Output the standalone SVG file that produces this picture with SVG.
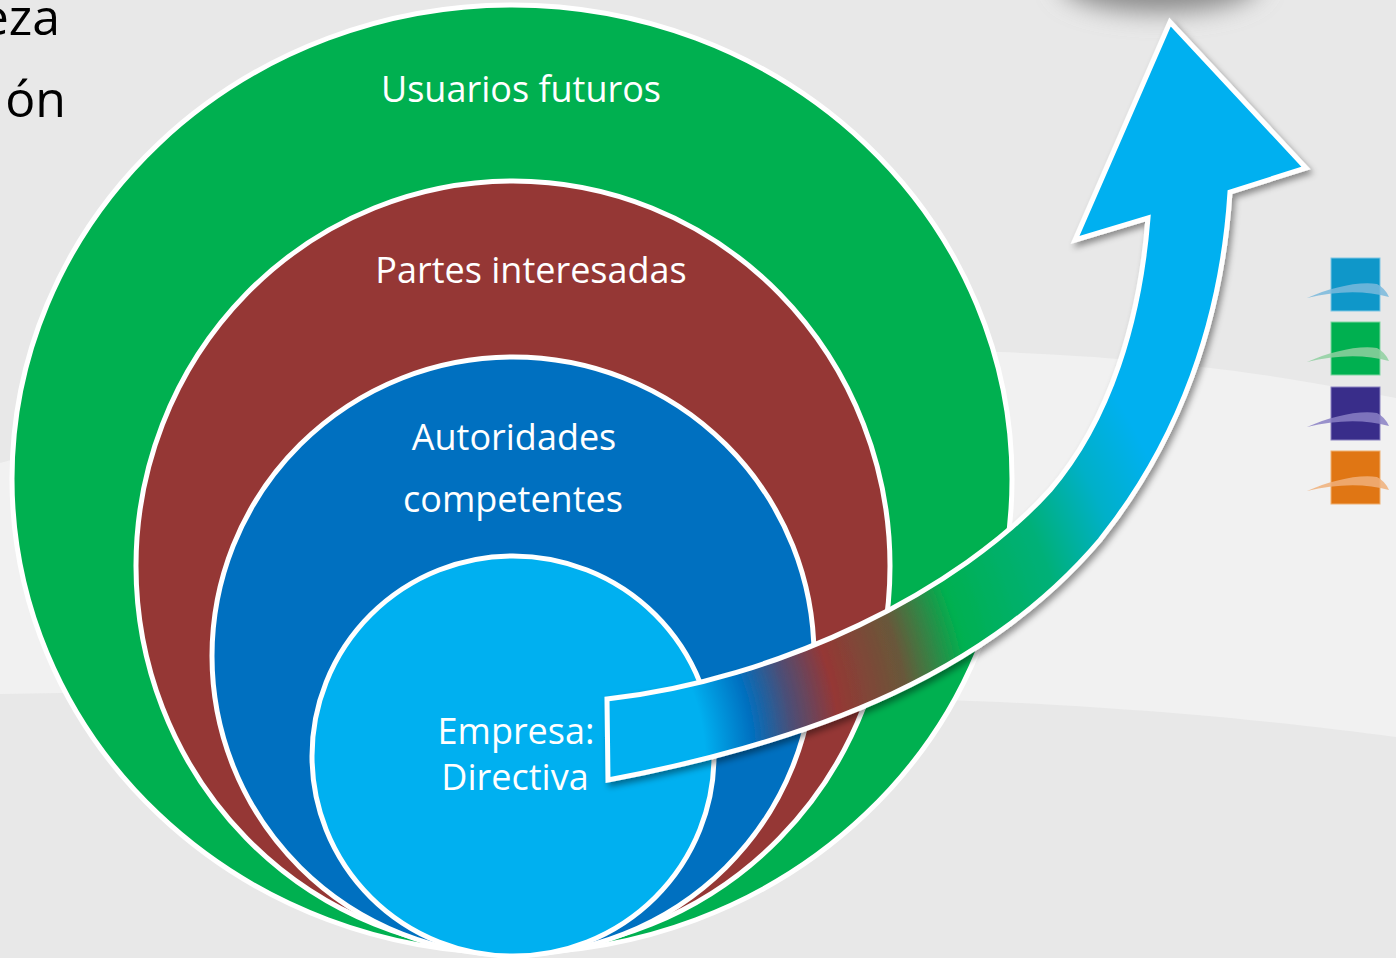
<svg xmlns="http://www.w3.org/2000/svg" width="1396" height="958" viewBox="0 0 1396 958">
<defs>
<style>
.lbl{font-family:"Open Sans","Noto Sans","Liberation Sans",sans-serif;font-size:36px;fill:#ffffff;text-anchor:middle}
.big{font-family:"Open Sans","Noto Sans","Liberation Sans",sans-serif;font-size:50px;fill:#000000;text-anchor:end}
.ring{stroke:#ffffff;stroke-width:5}
.sw{opacity:0.85}
</style>
<radialGradient id="arrowGrad" gradientUnits="userSpaceOnUse" cx="513" cy="760" r="800">
<stop offset="0" stop-color="#00b0f0"/>
<stop offset="0.24" stop-color="#00b0f0"/>
<stop offset="0.30" stop-color="#0070c0"/>
<stop offset="0.35" stop-color="#4a4f78"/>
<stop offset="0.41" stop-color="#953735"/>
<stop offset="0.50" stop-color="#68583a"/>
<stop offset="0.58" stop-color="#00b050"/>
<stop offset="0.71" stop-color="#00b078"/>
<stop offset="0.80" stop-color="#00b0c8"/>
<stop offset="0.88" stop-color="#00b0f0"/>
<stop offset="1" stop-color="#00b0f0"/>
</radialGradient>
<filter id="shadow" x="-10%" y="-10%" width="130%" height="130%">
<feDropShadow dx="3" dy="4" stdDeviation="3" flood-color="#000000" flood-opacity="0.4"/>
</filter>
<filter id="blur" x="-50%" y="-100%" width="200%" height="300%">
<feGaussianBlur stdDeviation="12"/>
</filter>
</defs>

<g id="background">
<rect x="0" y="0" width="1396" height="958" fill="#e8e8e8"/>
<path d="M0,463 C300,380 700,340 1000,352 C1200,360 1300,380 1396,398 L1396,737 C1300,725 1200,712 1000,702 C700,690 300,688 0,694 Z" fill="#f1f1f1"/>
<ellipse cx="1160" cy="-18" rx="100" ry="30" fill="#8a8a8a" filter="url(#blur)"/>
</g>

<g id="title-text">
<text class="big" x="60" y="35">eza</text>
<text class="big" x="66" y="117">ón</text>
</g>

<g id="node-usuarios">
<ellipse class="ring" cx="512" cy="479" rx="500" ry="474" fill="#00b050"/>
<text class="lbl" x="521" y="102">Usuarios futuros</text>
</g>
<g id="node-partes">
<ellipse class="ring" cx="513" cy="566" rx="377" ry="385" fill="#953735"/>
<text class="lbl" x="531" y="283">Partes interesadas</text>
</g>
<g id="node-autoridades">
<ellipse class="ring" cx="513" cy="656" rx="301" ry="299" fill="#0070c0"/>
<text class="lbl" x="514" y="450">Autoridades</text>
<text class="lbl" x="513" y="512">competentes</text>
</g>
<g id="node-empresa">
<ellipse class="ring" cx="513" cy="756" rx="201" ry="200" fill="#00b0f0"/>
<text class="lbl" x="516" y="744">Empresa:</text>
<text class="lbl" x="515" y="790">Directiva</text>
</g>

<g id="connectors">
<path d="M607,699 C780,680 960,590 1050,490 C1110,420 1140,320 1148,218 L1075,240 L1170,22 L1306,168 L1230,192 C1222,320 1180,440 1100,540 C990,670 820,740 608,780 Z" fill="url(#arrowGrad)" stroke="#ffffff" stroke-width="5" stroke-linejoin="miter" filter="url(#shadow)"/>
</g>

<g id="legend">
<rect x="1331" y="258" width="49" height="53" fill="#0f97c9" stroke="#7fc6e4" stroke-width="1"/>
<path class="sw" d="M1307,298 C1330,288 1358,281 1377,284 Q1385,288 1389,297 C1365,290 1335,291 1307,298 Z" fill="#79b9dc"/>
<rect x="1331" y="322" width="49" height="53" fill="#00b050" stroke="#7fd6a0" stroke-width="1"/>
<path class="sw" d="M1307,362 C1330,352 1358,345 1377,348 Q1385,352 1389,361 C1365,354 1335,355 1307,362 Z" fill="#8fd0a0"/>
<rect x="1331" y="387" width="49" height="53" fill="#392d8a" stroke="#8a82c0" stroke-width="1"/>
<path class="sw" d="M1307,427 C1330,417 1358,410 1377,413 Q1385,417 1389,426 C1365,419 1335,420 1307,427 Z" fill="#8a80c4"/>
<rect x="1331" y="451" width="49" height="53" fill="#e07614" stroke="#f0b070" stroke-width="1"/>
<path class="sw" d="M1307,491 C1330,481 1358,474 1377,477 Q1385,481 1389,490 C1365,483 1335,484 1307,491 Z" fill="#f0b07a"/>
</g>
</svg>
